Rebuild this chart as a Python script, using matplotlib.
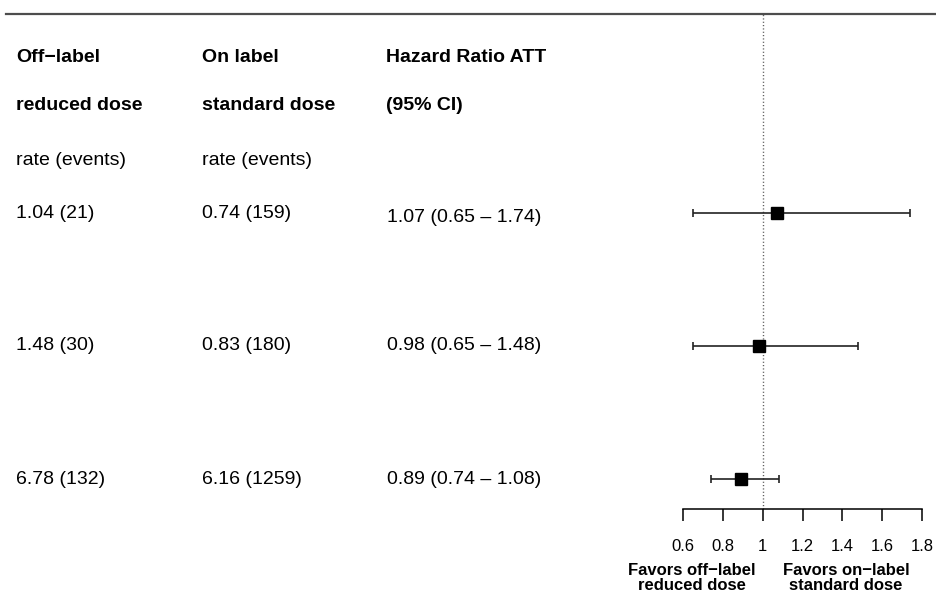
import matplotlib
matplotlib.use("Agg")
import matplotlib.pyplot as plt
import matplotlib.transforms as mtransforms
from matplotlib.lines import Line2D
import numpy as np

plt.rcParams['font.family'] = ['Liberation Sans', 'DejaVu Sans']

# ---- data ----
off_rate = [1.04, 1.48, 6.78]
off_events = [21, 30, 132]
on_rate = [0.74, 0.83, 6.16]
on_events = [159, 180, 1259]
hr = [1.07, 0.98, 0.89]
hr_lo = [0.65, 0.65, 0.74]
hr_hi = [1.74, 1.48, 1.08]
xticks = [0.6, 0.8, 1.0, 1.2, 1.4, 1.6, 1.8]
xtick_labels = ["0.6", "0.8", "1", "1.2", "1.4", "1.6", "1.8"]
header_col1 = ["Off\u2212label", "reduced dose", "rate (events)"]
header_col2 = ["On label", "standard dose", "rate (events)"]
header_col3 = ["Hazard Ratio ATT", "(95% CI)", ""]
favors_left = "Favors off\u2212label\nreduced dose"
favors_right = "Favors on\u2212label\nstandard dose"

W, H = 936, 594
fig = plt.figure(figsize=(W / 100, H / 100), dpi=100)

def fx(px):
    return px / W

def fy(py):
    return 1 - py / H

# forest axes
top_px, bot_px = 14, 509
left_px, right_px = 683, 922
ax = fig.add_axes([fx(left_px), fy(bot_px), fx(right_px - left_px), (bot_px - top_px) / H])
row_px = [213, 346, 479]
step = 133.0
ax.set_ylim((bot_px - row_px[0]) / step, (top_px - row_px[0]) / step)
ax.set_xlim(0.6, 1.8)
rows = np.arange(len(hr))

ax.axvline(1.0, color='#555555', lw=1.0, ls=(0, (0.8, 1.6)), zorder=1)
hr_a = np.array(hr)
err = [hr_a - np.array(hr_lo), np.array(hr_hi) - hr_a]
ax.errorbar(hr, rows, xerr=err, fmt='s', ms=8, mfc='black', mec='black',
            ecolor='#222222', elinewidth=1.2, capsize=2.9, capthick=1.2, zorder=3)

for s in ['top', 'left', 'right']:
    ax.spines[s].set_visible(False)
ax.spines['bottom'].set_linewidth(1.1)
ax.set_yticks([])
ax.set_xticks(xticks)
ax.set_xticklabels(xtick_labels, fontsize=12)
ax.tick_params(axis='x', direction='out', length=8.6, width=1.1, pad=13)
ax.patch.set_alpha(0)

# top rule
fig.add_artist(Line2D([fx(6), fx(936)], [fy(14), fy(14)], color='#4d4d4d', lw=1.6))

# table text
col_x = [16, 202, 386]
header_y = [58, 106, 161]
for j, (a, b, c) in enumerate(zip(header_col1, header_col2, header_col3)):
    wt = 'bold' if j < 2 else 'normal'
    fig.text(fx(col_x[0]), fy(header_y[j]), a, fontsize=14, fontweight=wt, va='center', ha='left')
    fig.text(fx(col_x[1]), fy(header_y[j]), b, fontsize=14, fontweight=wt, va='center', ha='left')
    if c:
        fig.text(fx(col_x[2]), fy(header_y[j]), c, fontsize=14, fontweight='bold', va='center', ha='left')

trans = mtransforms.blended_transform_factory(fig.transFigure, ax.transData)
hr_offsets = [-3.6, 0, 0]
for i in rows:
    fig.text(fx(col_x[0]), i, f"{off_rate[i]:.2f} ({off_events[i]})", fontsize=14,
             va='center', ha='left', transform=trans)
    fig.text(fx(col_x[1]), i, f"{on_rate[i]:.2f} ({on_events[i]})", fontsize=14,
             va='center', ha='left', transform=trans)
    t = mtransforms.offset_copy(trans, fig=fig, x=0, y=hr_offsets[i], units='points')
    fig.text(fx(col_x[2] + 1), i, f"{hr[i]:.2f} ({hr_lo[i]:.2f} \u2013 {hr_hi[i]:.2f})",
             fontsize=14, va='center', ha='left', transform=t)

# favors labels
tf = mtransforms.blended_transform_factory(ax.transData, fig.transFigure)
fig.text(0.645, fy(578), favors_left, fontsize=12, fontweight='bold', ha='center', va='center',
         linespacing=1.08, transform=tf)
fig.text(1.418, fy(578), favors_right, fontsize=12, fontweight='bold', ha='center', va='center',
         linespacing=1.08, transform=tf)

fig.savefig("out.png", dpi=100, facecolor='white')
